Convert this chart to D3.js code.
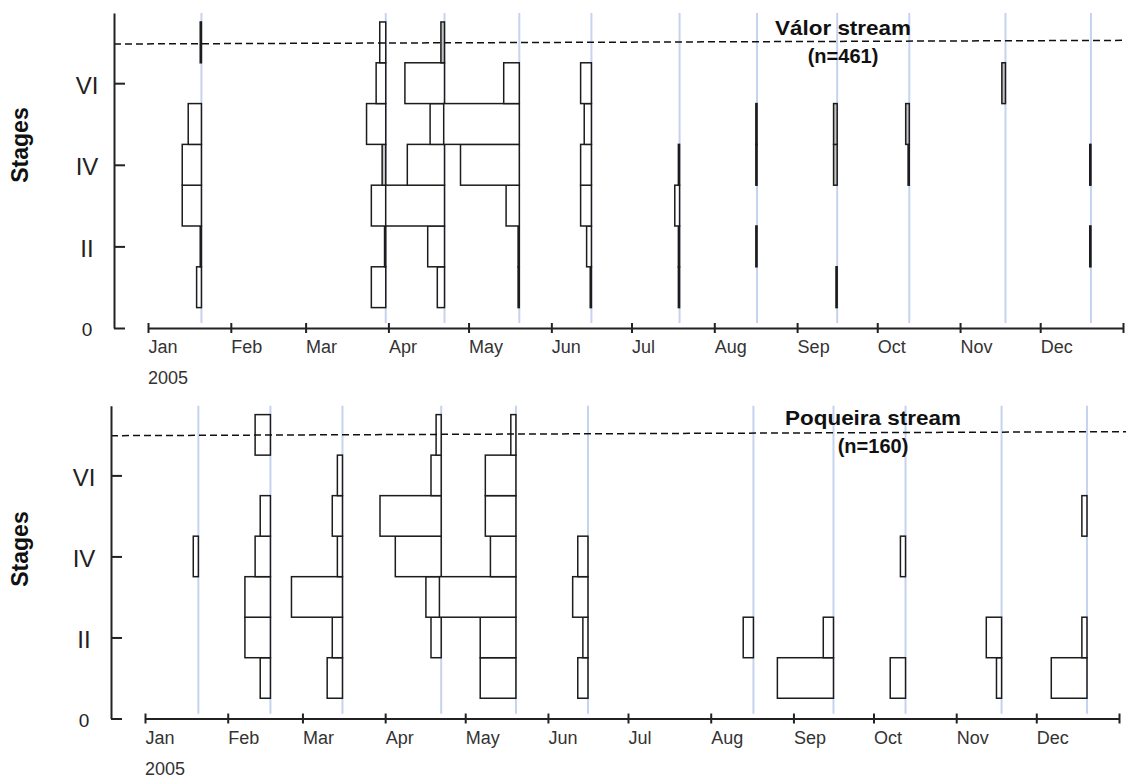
<!DOCTYPE html>
<html><head><meta charset="utf-8">
<script src="https://cdn.jsdelivr.net/npm/d3@7"></script>
<style>
body{margin:0;background:#fff}
svg{display:block}
text{font-family:"Liberation Sans",Arial,sans-serif}
</style>
</head><body><svg id="chart" width="1126" height="780"></svg>
<script>
// ---------------- data ----------------
const stages = [1, 2, 3, 4, 5, 6, 7];
const stageTicks = [0, 2, 4, 6];
const stageTickLabels = ["0", "II", "IV", "VI"];
const yearLabel = "2005";
const yLabel = "Stages";

const valorTitle = "Válor stream";
const valorN = "(n=461)";
const valorDates = ["2005-01-21", "2005-03-31", "2005-04-22", "2005-05-20", "2005-06-16",
  "2005-07-19", "2005-08-17", "2005-09-16", "2005-10-13", "2005-11-18", "2005-12-20"];
// counts per sampling date, stages I..VII
const valorCounts = [
  [4, 1, 16, 16, 11, 0, 1],
  [12, 1, 12, 3, 16, 8, 5],
  [6, 14, 49, 31, 12, 33, 3],
  [1, 1, 11, 49, 63, 13, 0],
  [1, 4, 9, 9, 6, 9, 0],
  [1, 1, 4, 1, 0, 0, 0],
  [0, 1, 0, 1, 1, 0, 0],
  [1, 0, 0, 3, 3, 0, 0],
  [0, 0, 0, 1, 3, 0, 0],
  [0, 0, 0, 0, 0, 3, 0],
  [0, 1, 0, 1, 0, 0, 0]
];

const poqueiraTitle = "Poqueira stream";
const poqueiraN = "(n=160)";
const poqueiraDates = ["2005-01-21", "2005-02-17", "2005-03-16", "2005-04-22", "2005-05-20",
  "2005-06-16", "2005-08-17", "2005-09-16", "2005-10-13", "2005-11-18", "2005-12-20"];
const poqueiraCounts = [
  [0, 0, 0, 1, 0, 0, 0],
  [2, 5, 5, 3, 2, 0, 3],
  [3, 2, 10, 1, 2, 1, 0],
  [0, 2, 3, 9, 12, 2, 1],
  [7, 7, 15, 5, 6, 6, 1],
  [2, 1, 3, 2, 0, 0, 0],
  [0, 2, 0, 0, 0, 0, 0],
  [11, 2, 0, 0, 0, 0, 0],
  [3, 0, 0, 1, 0, 0, 0],
  [1, 3, 0, 0, 0, 0, 0],
  [7, 1, 0, 0, 1, 0, 0]
];

// dashed reference line (stage value at left and right end)
const valorDashed = [6.96, 7.05];
const poqueiraDashed = [6.98, 7.08];

// ---------------- drawing ----------------
const svg = d3.select("#chart");
const parse = d3.timeParse("%Y-%m-%d");
const fmtMonth = d3.timeFormat("%b");

const panels = [
  {dates: valorDates, counts: valorCounts, title: valorTitle, n: valorN, dashed: valorDashed,
   x0: 148, x1: 1123, yAxisX: 114, yBottom: 328, yTop: 13, px: 1.2, thinGray: true,
   titleX: 843, titleY: 35, titleW: 136, nY: 63, labelY: 145},
  {dates: poqueiraDates, counts: poqueiraCounts, title: poqueiraTitle, n: poqueiraN, dashed: poqueiraDashed,
   x0: 145, x1: 1119, yAxisX: 111, yBottom: 718.5, yTop: 405.7, px: 5.1, thinGray: false,
   titleX: 873, titleY: 425, titleW: 176, nY: 453, labelY: 549}
];

const stageMax = 7.72;

panels.forEach(p => {
  const g = svg.append("g");
  const x = d3.scaleTime().domain([new Date(2005, 0, 1), new Date(2006, 0, 1)]).range([p.x0, p.x1]);
  const y = d3.scaleLinear().domain([0, stageMax]).range([p.yBottom, p.yTop]);
  const w = d3.scaleLinear().domain([0, 1]).range([0, p.px]);

  // sampling-date lines
  g.append("g").selectAll("line").data(p.dates).join("line")
    .attr("x1", d => x(parse(d))).attr("x2", d => x(parse(d)))
    .attr("y1", y(stageMax)).attr("y2", y(0.12))
    .attr("stroke", "#c6d3ef").attr("stroke-width", 2);

  // bars
  const bars = [];
  p.dates.forEach((d, i) => p.counts[i].forEach((c, j) => {
    if (c > 0) bars.push({date: parse(d), stage: stages[j], count: c});
  }));
  g.append("g").selectAll("rect").data(bars).join("rect")
    .attr("x", d => x(d.date) - w(d.count))
    .attr("width", d => w(d.count))
    .attr("y", d => y(d.stage + 0.5))
    .attr("height", d => y(d.stage - 0.5) - y(d.stage + 0.5))
    .attr("fill", d => (p.thinGray && w(d.count) < 4) ? "#c4c4c4" : "#fff")
    .attr("stroke", "#1c1c1c").attr("stroke-width", 1.5);

  // dashed line
  g.append("line")
    .attr("x1", p.yAxisX).attr("x2", 1126)
    .attr("y1", y(p.dashed[0])).attr("y2", y(p.dashed[1]))
    .attr("stroke", "#111").attr("stroke-width", 1.5).attr("stroke-dasharray", "7,4");

  // y axis
  const ya = g.append("g").attr("transform", `translate(${p.yAxisX},0)`)
    .call(d3.axisLeft(y).tickValues(stageTicks)
      .tickFormat((d, i) => stageTickLabels[i]).tickSize(-11).tickSizeOuter(0).tickPadding(27));
  ya.select(".domain").attr("stroke", "#222").attr("stroke-width", 2);
  ya.selectAll(".tick line").attr("stroke", "#222").attr("stroke-width", 2);
  ya.selectAll(".tick text")
    .attr("text-anchor", "middle").attr("fill", "#222")
    .attr("font-size", d => d === 0 ? 19 : 24)
    .attr("dy", "0.42em");

  // x axis
  const xa = g.append("g").attr("transform", `translate(0,${p.yBottom})`)
    .call(d3.axisBottom(x).ticks(d3.timeMonth.every(1))
      .tickFormat(d => d.getFullYear() === 2005 ? fmtMonth(d) : "")
      .tickSizeInner(5).tickSizeOuter(0).tickPadding(0));
  xa.select(".domain").attr("stroke", "#222").attr("stroke-width", 2);
  xa.selectAll(".tick line").attr("y1", -5).attr("stroke", "#222").attr("stroke-width", 2);
  xa.selectAll(".tick text")
    .attr("text-anchor", "start").attr("y", 25).attr("dy", 0)
    .attr("font-size", 18).attr("fill", "#333");

  g.append("text").attr("x", p.x0).attr("y", p.yBottom + 56)
    .attr("font-size", 18).attr("fill", "#333").text(yearLabel);

  // y label
  g.append("text")
    .attr("transform", `translate(28,${p.labelY}) rotate(-90)`)
    .attr("text-anchor", "middle").attr("font-weight", "bold").attr("font-size", 23)
    .attr("fill", "#111").text(yLabel);

  // title
  g.append("text").attr("x", p.titleX).attr("y", p.titleY)
    .attr("text-anchor", "middle").attr("font-weight", "bold").attr("font-size", 21)
    .attr("textLength", p.titleW).attr("lengthAdjust", "spacingAndGlyphs")
    .attr("fill", "#111").text(p.title);
  g.append("text").attr("x", p.titleX).attr("y", p.nY)
    .attr("text-anchor", "middle").attr("font-weight", "bold").attr("font-size", 20)
    .attr("fill", "#111").text(p.n);
});
</script>
</body></html>
